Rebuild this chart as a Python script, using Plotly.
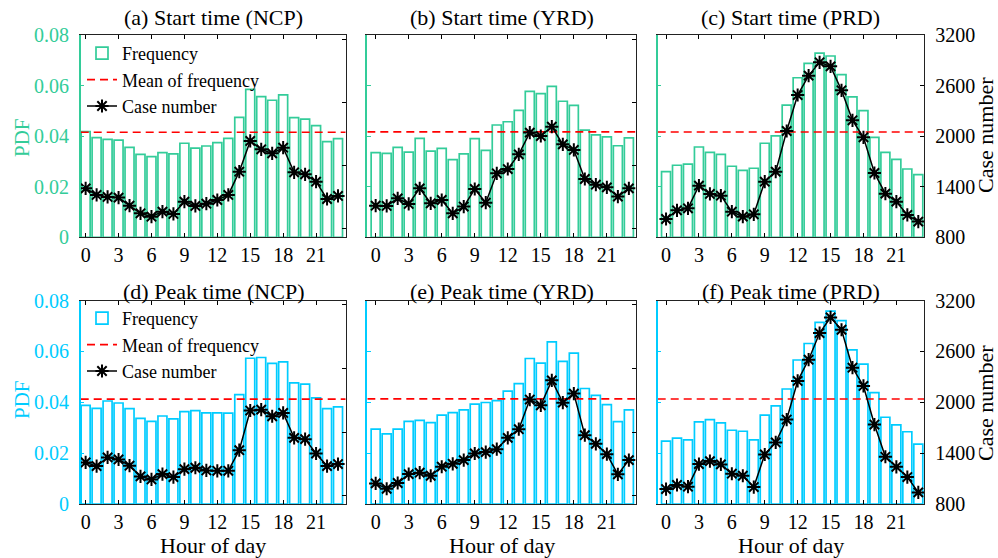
import plotly.graph_objects as go

# ---------------- data ----------------
hours = list(range(24))
hour_ticks = [0, 3, 6, 9, 12, 15, 18, 21]
pdf_ticks = [0, 0.02, 0.04, 0.06, 0.08]
case_ticks_prd = [800, 1400, 2000, 2600, 3200]
case_ticks_other = [500, 1000, 1500, 2000]

titles = ["(a) Start time (NCP)", "(b) Start time (YRD)", "(c) Start time (PRD)",
          "(d) Peak time (NCP)", "(e) Peak time (YRD)", "(f) Peak time (PRD)"]

freq_start_ncp = [0.0418, 0.0394, 0.0387, 0.0384, 0.0356, 0.0328, 0.0319, 0.0335, 0.0330, 0.0372, 0.0353, 0.0361,
                  0.0374, 0.0391, 0.0474, 0.0585, 0.0556, 0.0542, 0.0563, 0.0473, 0.0467, 0.0442, 0.0378, 0.0390]
freq_start_yrd = [0.0335, 0.0332, 0.0356, 0.0337, 0.0391, 0.0341, 0.0352, 0.0307, 0.0330, 0.0390, 0.0344, 0.0444,
                  0.0457, 0.0502, 0.0577, 0.0568, 0.0597, 0.0538, 0.0522, 0.0424, 0.0405, 0.0397, 0.0362, 0.0393]
freq_start_prd = [0.0260, 0.0285, 0.0289, 0.0357, 0.0336, 0.0328, 0.0281, 0.0265, 0.0273, 0.0372, 0.0401, 0.0523,
                  0.0631, 0.0688, 0.0728, 0.0717, 0.0643, 0.0555, 0.0501, 0.0395, 0.0336, 0.0308, 0.0270, 0.0248]
freq_peak_ncp = [0.0388, 0.0376, 0.0405, 0.0397, 0.0375, 0.0337, 0.0325, 0.0346, 0.0335, 0.0363, 0.0367, 0.0358,
                 0.0358, 0.0357, 0.0430, 0.0573, 0.0576, 0.0553, 0.0559, 0.0476, 0.0471, 0.0417, 0.0375, 0.0382]
freq_peak_yrd = [0.0294, 0.0276, 0.0294, 0.0325, 0.0329, 0.0320, 0.0349, 0.0359, 0.0370, 0.0393, 0.0399, 0.0406,
                 0.0444, 0.0473, 0.0572, 0.0554, 0.0637, 0.0561, 0.0593, 0.0454, 0.0427, 0.0391, 0.0324, 0.0370]
freq_peak_prd = [0.0247, 0.0259, 0.0252, 0.0323, 0.0332, 0.0319, 0.0290, 0.0286, 0.0252, 0.0349, 0.0386, 0.0452,
                 0.0566, 0.0631, 0.0714, 0.0758, 0.0721, 0.0606, 0.0550, 0.0438, 0.0341, 0.0311, 0.0284, 0.0235]

case_start_ncp = [821, 769, 753, 748, 684, 624, 597, 637, 619, 716, 682, 700,
                  729, 769, 953, 1196, 1130, 1098, 1143, 948, 932, 874, 737, 761]
case_start_yrd = [684, 682, 742, 698, 821, 703, 729, 624, 677, 816, 708, 940,
                  974, 1090, 1262, 1235, 1309, 1169, 1125, 895, 850, 829, 756, 821]
case_start_prd = [1017, 1120, 1144, 1413, 1314, 1294, 1104, 1045, 1073, 1460, 1579, 2061,
                  2488, 2718, 2876, 2828, 2544, 2188, 1986, 1563, 1318, 1223, 1065, 986]
case_peak_ncp = [761, 732, 800, 784, 735, 651, 627, 669, 646, 708, 719, 698,
                 695, 695, 857, 1169, 1176, 1124, 1150, 954, 944, 831, 732, 748]
case_peak_yrd = [596, 554, 599, 669, 680, 656, 727, 750, 779, 831, 842, 865,
                 954, 1022, 1255, 1210, 1406, 1231, 1302, 975, 907, 826, 667, 779]
case_peak_prd = [976, 1024, 1004, 1271, 1306, 1267, 1157, 1133, 1000, 1384, 1526, 1796,
                 2251, 2502, 2816, 3000, 2855, 2408, 2192, 1737, 1357, 1239, 1118, 937]

freqs = [freq_start_ncp, freq_start_yrd, freq_start_prd, freq_peak_ncp, freq_peak_yrd, freq_peak_prd]
cases = [case_start_ncp, case_start_yrd, case_start_prd, case_peak_ncp, case_peak_yrd, case_peak_prd]

# ---------------- style / layout ----------------
W, H = 998, 558
FONT = "Liberation Serif, Times New Roman, serif"
GREEN = "#33CC99"
CYAN = "#00CCFF"
RED = "#FF0000"

col_px = [(80.7, 345.7), (367.3, 635.7), (657.7, 924.0)]
row_px = [(35.0, 237.3), (300.5, 504.0)]
x_ranges = [(-0.45, 23.7), (-0.76, 23.62), (-0.76, 23.52)]
right_range_prd = (800, 3200)
right_range_other = (434, 2034)

fig = go.Figure()
layout = dict(width=W, height=H, autosize=False,
              margin=dict(l=0, r=0, t=0, b=0, pad=0, autoexpand=False),
              paper_bgcolor="white", plot_bgcolor="white",
              font=dict(family=FONT, size=20, color="black"),
              showlegend=True, annotations=[])

for i in range(6):
    r, c = divmod(i, 3)
    color = GREEN if r == 0 else CYAN
    xa = "x" if i == 0 else f"x{i+1}"
    yl = "y" if i == 0 else f"y{i+1}"
    yr = f"y{i+7}"
    xd = [col_px[c][0] / W, col_px[c][1] / W]
    yd = [1 - row_px[r][1] / H, 1 - row_px[r][0] / H]
    xr = x_ranges[c]
    is_prd = (c == 2)
    rr = right_range_prd if is_prd else right_range_other
    rt = case_ticks_prd if is_prd else case_ticks_other
    leg = "legend" if r == 0 else "legend2"
    show = (c == 0)
    mean_f = sum(freqs[i]) / len(freqs[i])

    fig.add_trace(go.Bar(x=hours, y=freqs[i], xaxis=xa, yaxis=yl, width=0.82,
                         marker=dict(color="white", line=dict(color=color, width=1.7)),
                         name="Frequency", legend=leg, showlegend=show))
    fig.add_trace(go.Scatter(x=[xr[0], xr[1]], y=[mean_f, mean_f], xaxis=xa, yaxis=yl, mode="lines",
                             line=dict(color=RED, width=1.6, dash="8px,5px"),
                             name="Mean of frequency", legend=leg, showlegend=show))
    fig.add_trace(go.Scatter(x=hours, y=cases[i], xaxis=xa, yaxis=yr, mode="lines+markers",
                             line=dict(color="black", width=1.5),
                             marker=dict(symbol="asterisk-open", size=11,
                                         line=dict(color="black", width=2)),
                             name="Case number", legend=leg, showlegend=show))

    layout["xaxis" if i == 0 else f"xaxis{i+1}"] = dict(
        domain=xd, anchor=yl, range=list(xr), tickvals=hour_ticks, ticks="inside", ticklen=4,
        tickcolor="black", showline=True, linecolor="#222222", linewidth=1.3, mirror="ticks",
        showgrid=False, zeroline=False, tickfont=dict(family=FONT, size=20, color="black"),
        ticklabelstandoff=0, automargin=False)
    layout["yaxis" if i == 0 else f"yaxis{i+1}"] = dict(
        domain=yd, anchor=xa, range=[0, 0.08], tickvals=pdf_ticks, ticks="inside", ticklen=4,
        tickcolor=color, showline=True, linecolor=color, linewidth=1.5, showgrid=False,
        zeroline=False, showticklabels=(c == 0), tickfont=dict(family=FONT, size=20, color=color),
        ticklabelstandoff=6, automargin=False)
    layout[f"yaxis{i+7}"] = dict(
        overlaying=yl, anchor=xa, side="right", range=list(rr), tickvals=rt, ticks="inside",
        ticklen=4, tickcolor="black", showline=True, linecolor="#222222", linewidth=1.3,
        showgrid=False, zeroline=False, showticklabels=is_prd,
        tickfont=dict(family=FONT, size=20, color="black"), ticklabelstandoff=6, automargin=False)

    # panel title
    layout["annotations"].append(dict(
        text=titles[i], x=(xd[0] + xd[1]) / 2, y=1 - (17 if r == 0 else 291) / H,
        xref="paper", yref="paper", xanchor="center", yanchor="middle", showarrow=False,
        font=dict(family=FONT, size=22, color="black")))
    if r == 1:
        layout["annotations"].append(dict(
            text="Hour of day", x=(xd[0] + xd[1]) / 2, y=1 - 545 / H,
            xref="paper", yref="paper", xanchor="center", yanchor="middle", showarrow=False,
            font=dict(family=FONT, size=22, color="black")))
    if c == 0:
        layout["annotations"].append(dict(
            text="PDF", x=22 / W, y=1 - (138 if r == 0 else 400) / H, textangle=-90,
            xref="paper", yref="paper", xanchor="center", yanchor="middle", showarrow=False,
            font=dict(family=FONT, size=21, color=color)))
    if c == 2:
        layout["annotations"].append(dict(
            text="Case number", x=985 / W, y=1 - (135 if r == 0 else 403) / H, textangle=-90,
            xref="paper", yref="paper", xanchor="center", yanchor="middle", showarrow=False,
            font=dict(family=FONT, size=22, color="black")))

leg_style = dict(xanchor="left", yanchor="top", bgcolor="rgba(0,0,0,0)", borderwidth=0,
                 font=dict(family=FONT, size=18, color="black"), tracegroupgap=0,
                 itemwidth=30, traceorder="normal")
layout["legend"] = dict(x=82 / W, y=1 - 35 / H, **leg_style)
layout["legend2"] = dict(x=82 / W, y=1 - 300 / H, **leg_style)

fig.update_layout(**layout)
fig.write_html("out.html")
